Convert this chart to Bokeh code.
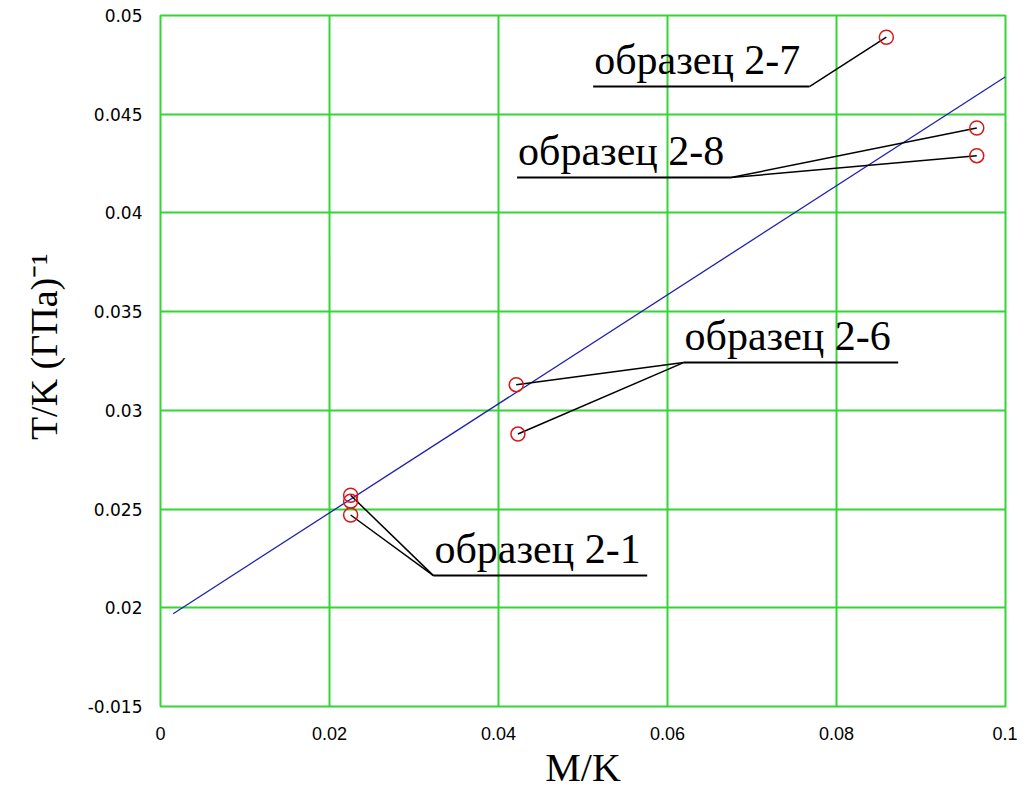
from bokeh.plotting import figure
from bokeh.models import Range1d, FixedTicker
from bokeh.core.properties import value
from bokeh.embed import file_html
from bokeh.resources import INLINE

# ---------------- data ----------------
fit_x = [0.0015, 0.1]
fit_y = [0.0197, 0.0469]

s21_x = [0.0225, 0.0225, 0.0225]
s21_y = [0.0257, 0.0254, 0.0247]
s26_x = [0.0421, 0.0423]
s26_y = [0.0313, 0.0288]
s27_x = [0.0859]
s27_y = [0.0489]
s28_x = [0.0966, 0.0966]
s28_y = [0.0443, 0.0429]

sample_names = ["образец 2-1", "образец 2-6", "образец 2-7", "образец 2-8"]

x_ticks = [0, 0.02, 0.04, 0.06, 0.08, 0.1]
x_tick_labels = ["0", "0.02", "0.04", "0.06", "0.08", "0.1"]
y_ticks = [0.015, 0.02, 0.025, 0.03, 0.035, 0.04, 0.045, 0.05]
y_tick_labels = ["-0.015", "0.02", "0.025", "0.03", "0.035", "0.04", "0.045", "0.05"]

x_title = "M/K"
y_title = "\u00a0\u00a0\u00a0T/K (ГПа)⁻¹"

# ---------------- figure ----------------
GREEN = "#33d633"
p = figure(frame_width=845, frame_height=691, output_backend="svg",
           toolbar_location=None, x_range=Range1d(0, 0.1), y_range=Range1d(0.015, 0.05),
           min_border_left=160, min_border_top=15, min_border_right=12, min_border_bottom=0)
p.background_fill_color = "white"
p.border_fill_color = "white"
p.outline_line_color = GREEN
p.outline_line_width = 2

p.xaxis.ticker = FixedTicker(ticks=x_ticks)
p.yaxis.ticker = FixedTicker(ticks=y_ticks)
p.xaxis.major_label_overrides = dict(zip(x_ticks, x_tick_labels))
p.yaxis.major_label_overrides = dict(zip(y_ticks, y_tick_labels))

for ax in (p.xaxis, p.yaxis):
    ax.axis_line_color = None
    ax.major_tick_line_color = None
    ax.minor_tick_line_color = None
    ax.major_label_text_color = "black"
    ax.axis_label_text_font = "Liberation Serif"
    ax.axis_label_text_font_style = "normal"
    ax.axis_label_text_color = "black"

p.xaxis.major_label_text_font = "Liberation Sans"
p.xaxis.major_label_text_font_size = "18px"
p.xaxis.major_label_standoff = 14
p.xaxis.axis_label = x_title
p.xaxis.axis_label_text_font_size = "40px"
p.xaxis.axis_label_standoff = 2

p.yaxis.major_label_text_font = "DejaVu Sans"
p.yaxis.major_label_text_font_size = "17px"
p.yaxis.major_label_standoff = 12
p.yaxis.axis_label = y_title
p.yaxis.axis_label_text_font_size = "38px"
p.yaxis.axis_label_standoff = 20

p.grid.grid_line_color = GREEN
p.grid.grid_line_width = 2

# fitted line
p.line(fit_x, fit_y, line_color="#2020b0", line_width=1.3)

# annotation layout (underline start/end x, underline y, leader anchor side)
layout = {
    "образец 2-1": (0.0323, 0.0576, 0.02163, "left", s21_x[::2], s21_y[::2]),
    "образец 2-6": (0.0619, 0.0873, 0.03242, "left", s26_x, s26_y),
    "образец 2-7": (0.0512, 0.0768, 0.04640, "right", s27_x, s27_y),
    "образец 2-8": (0.0422, 0.0675, 0.04179, "right", s28_x, s28_y),
}

for name in sample_names:
    x0, x1, yu, side, px, py = layout[name]
    ax_ = x0 if side == "left" else x1
    p.segment(x0=[ax_] * len(px), y0=[yu] * len(px), x1=px, y1=py,
              line_color="black", line_width=1.5)
    p.segment(x0=[x0], y0=[yu], x1=[x1], y1=[yu], line_color="black", line_width=2)
    p.text(x=[x0], y=[yu], text=[name], text_font=value("Liberation Serif"),
           text_font_size="42px", text_baseline="alphabetic", text_align="left",
           x_offset=1, y_offset=-27, text_color="black")

# data points
for xs, ys in ((s21_x, s21_y), (s26_x, s26_y), (s27_x, s27_y), (s28_x, s28_y)):
    p.scatter(xs, ys, marker="circle", size=14, fill_color=None,
              line_color="#d81818", line_width=1.5)

open("out.html", "w").write(file_html(p, INLINE))
